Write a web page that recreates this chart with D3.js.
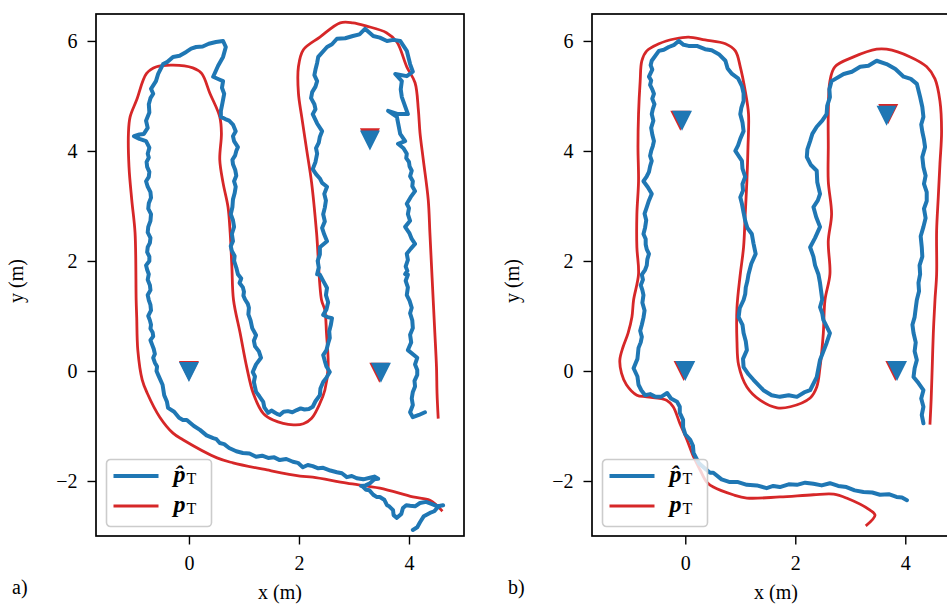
<!DOCTYPE html>
<html>
<head>
<meta charset="utf-8">
<script src="https://cdn.jsdelivr.net/npm/d3@7"></script>
<style>
  body { margin: 0; background: #fff; }
  text { font-family: "Liberation Serif", "DejaVu Serif", serif; fill: #000; }
</style>
</head>
<body>
<svg id="chart" width="947" height="605"></svg>
<script>
// tick values
const xTicks = [0, 2, 4];
const yTicks = [-2, 0, 2, 4, 6];

// panel a) true trajectory p_T (red)
const trueA = [
  [4.59,-2.53],[4.38,-2.35],[4.07,-2.29],[3.47,-2.13],[2.87,-2.04],[2.25,-1.93],[2.02,-1.91],
  [1.42,-1.80],[0.80,-1.67],[0.51,-1.58],[-0.11,-1.25],[-0.29,-1.13],[-0.53,-0.84],[-0.76,-0.40],
  [-0.85,-0.16],[-0.93,0.38],[-0.95,0.98],[-0.96,1.29],[-0.98,2.51],[-1.04,3.11],[-1.09,3.71],
  [-1.10,4.33],[-1.07,4.62],[-0.95,4.93],[-0.77,5.41],[-0.59,5.53],[-0.29,5.56],[0.07,5.51],
  [0.23,5.41],[0.38,5.05],[0.56,4.62],[0.59,4.32],[0.56,3.84],[0.62,3.42],[0.71,2.98],[0.75,2.50],
  [0.78,1.90],[0.81,1.29],[0.93,0.69],[1.05,0.07],[1.17,-0.41],[1.35,-0.77],[1.53,-0.89],
  [1.90,-0.98],[2.08,-0.96],[2.23,-0.86],[2.38,-0.59],[2.47,-0.35],[2.53,0.07],[2.50,0.69],
  [2.47,1.11],[2.41,1.29],[2.32,2.51],[2.23,3.42],[2.14,4.02],[2.05,4.62],[1.99,5.05],[1.99,5.53],
  [2.08,5.84],[2.38,6.07],[2.75,6.33],[2.98,6.33],[3.23,6.27],[3.59,6.15],[3.78,5.98],[3.96,5.53],
  [4.11,5.24],[4.17,4.75],[4.20,4.33],[4.26,3.84],[4.35,3.11],[4.38,2.51],[4.41,1.90],[4.44,1.29],
  [4.47,0.69],[4.50,0.07],[4.51,-0.41],[4.53,-0.84]
];

// panel a) estimated trajectory p̂_T (blue)
const estA = [
  [4.07,-2.89],[4.15,-2.84],[4.20,-2.75],[4.27,-2.64],[4.38,-2.58],[4.46,-2.55],[4.51,-2.49],[4.57,-2.45],
  [4.62,-2.44],[4.52,-2.46],[4.42,-2.42],[4.31,-2.38],[4.20,-2.40],[4.11,-2.46],[4.02,-2.45],[3.95,-2.44],
  [3.89,-2.49],[3.86,-2.60],[3.78,-2.67],[3.72,-2.62],[3.71,-2.53],[3.64,-2.46],[3.60,-2.44],[3.55,-2.34],
  [3.47,-2.29],[3.41,-2.29],[3.35,-2.25],[3.28,-2.17],[3.22,-2.16],[3.16,-2.10],[3.13,-2.09],[3.21,-2.08],
  [3.29,-2.04],[3.37,-1.97],[3.44,-1.96],[3.37,-1.92],[3.29,-1.94],[3.17,-1.97],[3.05,-1.95],[2.96,-1.91],
  [2.87,-1.93],[2.78,-1.86],[2.69,-1.84],[2.57,-1.81],[2.44,-1.76],[2.35,-1.77],[2.25,-1.73],[2.16,-1.71],
  [2.07,-1.75],[1.98,-1.67],[1.89,-1.65],[1.77,-1.60],[1.65,-1.62],[1.55,-1.57],[1.44,-1.58],[1.33,-1.54],
  [1.22,-1.56],[1.10,-1.50],[0.98,-1.49],[0.86,-1.46],[0.73,-1.40],[0.64,-1.33],[0.56,-1.31],[0.50,-1.24],
  [0.44,-1.22],[0.32,-1.17],[0.20,-1.07],[0.09,-1.00],[-0.04,-0.89],[-0.11,-0.89],[-0.18,-0.85],[-0.27,-0.74],
  [-0.38,-0.67],[-0.40,-0.56],[-0.45,-0.44],[-0.48,-0.25],[-0.56,-0.07],[-0.59,0.00],[-0.58,0.08],[-0.62,0.15],
  [-0.65,0.24],[-0.62,0.31],[-0.64,0.40],[-0.67,0.48],[-0.70,0.56],[-0.65,0.63],[-0.66,0.70],[-0.70,0.77],
  [-0.69,0.84],[-0.71,0.92],[-0.74,1.00],[-0.69,1.10],[-0.70,1.20],[-0.73,1.29],[-0.75,1.38],[-0.70,1.47],
  [-0.71,1.56],[-0.75,1.66],[-0.73,1.76],[-0.76,1.84],[-0.78,1.92],[-0.72,2.00],[-0.72,2.08],[-0.76,2.16],
  [-0.75,2.25],[-0.71,2.33],[-0.70,2.42],[-0.75,2.52],[-0.74,2.62],[-0.70,2.73],[-0.69,2.85],[-0.74,2.95],
  [-0.73,3.05],[-0.69,3.15],[-0.70,3.25],[-0.75,3.35],[-0.78,3.45],[-0.73,3.53],[-0.72,3.62],[-0.76,3.71],
  [-0.77,3.80],[-0.73,3.88],[-0.75,3.95],[-0.72,4.06],[-0.78,4.18],[-0.90,4.22],[-1.00,4.27],[-0.90,4.30],
  [-0.82,4.31],[-0.75,4.42],[-0.78,4.55],[-0.72,4.70],[-0.73,4.85],[-0.70,4.96],[-0.65,5.04],[-0.69,5.13],
  [-0.60,5.27],[-0.56,5.40],[-0.47,5.58],[-0.39,5.62],[-0.29,5.71],[-0.17,5.73],[-0.05,5.80],[0.04,5.86],
  [0.13,5.89],[0.25,5.90],[0.36,5.95],[0.49,5.98],[0.62,6.00],[0.67,5.89],[0.62,5.71],[0.53,5.55],
  [0.44,5.35],[0.55,5.30],[0.62,5.27],[0.60,5.15],[0.64,5.04],[0.61,4.88],[0.58,4.73],[0.58,4.62],
  [0.66,4.58],[0.73,4.55],[0.80,4.48],[0.85,4.36],[0.80,4.27],[0.82,4.18],[0.89,4.07],[0.86,4.00],
  [0.84,3.92],[0.79,3.84],[0.80,3.76],[0.84,3.66],[0.86,3.55],[0.82,3.45],[0.85,3.35],[0.83,3.23],
  [0.80,3.12],[0.79,2.98],[0.76,2.85],[0.80,2.74],[0.82,2.62],[0.78,2.49],[0.80,2.36],[0.76,2.27],
  [0.78,2.18],[0.83,2.09],[0.82,2.00],[0.86,1.88],[0.89,1.76],[0.95,1.68],[0.92,1.60],[0.98,1.52],
  [1.00,1.44],[0.99,1.37],[1.02,1.30],[1.07,1.22],[1.09,1.15],[1.08,1.03],[1.12,0.92],[1.15,0.78],
  [1.22,0.65],[1.18,0.55],[1.20,0.45],[1.27,0.36],[1.31,0.24],[1.22,0.12],[1.16,-0.02],[1.20,-0.10],
  [1.18,-0.20],[1.22,-0.38],[1.28,-0.46],[1.35,-0.56],[1.37,-0.66],[1.44,-0.76],[1.50,-0.72],[1.55,-0.75],
  [1.60,-0.78],[1.65,-0.80],[1.72,-0.74],[1.80,-0.73],[1.88,-0.75],[1.96,-0.71],[2.03,-0.68],[2.10,-0.70],
  [2.18,-0.69],[2.25,-0.65],[2.30,-0.55],[2.38,-0.44],[2.39,-0.32],[2.44,-0.20],[2.50,-0.12],[2.56,-0.02],
  [2.50,0.08],[2.47,0.18],[2.44,0.29],[2.50,0.38],[2.53,0.50],[2.56,0.60],[2.55,0.72],[2.58,0.84],
  [2.60,0.96],[2.52,0.98],[2.44,1.02],[2.50,1.12],[2.53,1.25],[2.49,1.38],[2.51,1.51],[2.45,1.62],
  [2.38,1.75],[2.33,1.76],[2.36,1.88],[2.34,2.00],[2.38,2.12],[2.38,2.25],[2.51,2.36],[2.46,2.48],
  [2.42,2.60],[2.47,2.72],[2.44,2.85],[2.47,2.97],[2.49,3.10],[2.46,3.22],[2.51,3.35],[2.42,3.42],
  [2.38,3.50],[2.31,3.58],[2.25,3.67],[2.30,3.80],[2.33,3.95],[2.31,4.05],[2.36,4.15],[2.38,4.26],
  [2.42,4.36],[2.33,4.50],[2.25,4.67],[2.30,4.76],[2.28,4.85],[2.22,4.96],[2.24,5.07],[2.30,5.17],
  [2.33,5.27],[2.28,5.38],[2.30,5.48],[2.33,5.60],[2.35,5.71],[2.51,5.89],[2.60,5.94],[2.69,6.04],
  [2.84,6.05],[2.98,6.09],[3.10,6.12],[3.20,6.22],[3.35,6.09],[3.47,6.06],[3.60,6.00],[3.72,6.02],
  [3.84,6.00],[3.96,5.82],[4.02,5.58],[4.07,5.44],[3.96,5.36],[3.75,5.40],[3.87,5.27],[3.85,5.12],
  [3.87,4.98],[3.98,4.67],[3.80,4.67],[3.62,4.73],[3.78,4.62],[3.84,4.31],[3.93,4.18],[3.80,4.13],
  [3.90,4.05],[3.96,3.95],[3.95,3.87],[4.00,3.80],[4.01,3.72],[4.05,3.64],[4.02,3.54],[4.07,3.45],
  [4.06,3.36],[4.11,3.27],[4.03,3.16],[3.96,3.04],[4.00,2.96],[3.98,2.85],[4.02,2.73],[3.93,2.62],
  [4.01,2.50],[4.05,2.40],[4.11,2.31],[4.03,2.22],[3.96,2.13],[3.98,2.02],[3.94,1.90],[3.97,1.82],
  [3.93,1.76],[3.98,1.75],[3.94,1.64],[3.98,1.52],[3.96,1.38],[4.01,1.28],[4.05,1.15],[4.02,1.05],
  [4.06,0.92],[4.07,0.78],[4.02,0.66],[4.04,0.52],[3.98,0.38],[4.15,0.24],[4.11,0.12],[4.15,0.02],
  [4.15,-0.07],[4.10,-0.18],[4.11,-0.28],[4.07,-0.38],[4.05,-0.50],[4.07,-0.62],[4.02,-0.75],[4.07,-0.84],
  [4.18,-0.80],[4.29,-0.75]
];

// panel b) true trajectory p_T (red)
const trueB = [
  [3.30,-2.80],[3.45,-2.62],[3.36,-2.53],[2.93,-2.31],[2.70,-2.24],[2.33,-2.25],[1.72,-2.29],
  [1.12,-2.31],[0.87,-2.25],[0.51,-2.11],[0.39,-2.02],[0.27,-1.80],[0.15,-1.56],[0.03,-1.25],
  [-0.10,-0.95],[-0.22,-0.65],[-0.34,-0.53],[-0.70,-0.47],[-0.88,-0.44],[-1.07,-0.25],[-1.16,-0.04],
  [-1.19,0.20],[-1.13,0.44],[-1.04,0.69],[-0.97,0.98],[-0.94,1.29],[-0.85,1.76],[-0.88,2.25],
  [-0.88,2.85],[-0.85,3.45],[-0.86,4.07],[-0.85,4.67],[-0.82,5.27],[-0.79,5.64],[-0.70,5.82],
  [-0.48,5.95],[-0.18,6.04],[0.06,6.07],[0.36,6.02],[0.73,5.95],[0.91,5.82],[1.00,5.53],[1.09,5.09],
  [1.15,4.67],[1.14,4.07],[1.12,3.45],[1.09,2.85],[1.06,2.25],[1.00,1.76],[0.94,1.15],[0.94,0.53],
  [0.97,0.11],[1.12,-0.29],[1.36,-0.53],[1.67,-0.67],[1.91,-0.65],[2.27,-0.49],[2.39,-0.29],
  [2.45,0.07],[2.51,0.69],[2.54,1.29],[2.63,1.76],[2.60,2.36],[2.66,2.85],[2.60,3.45],[2.60,4.07],
  [2.60,4.67],[2.63,5.27],[2.72,5.53],[3.06,5.71],[3.48,5.85],[3.66,5.85],[4.09,5.71],[4.39,5.53],
  [4.54,5.31],[4.63,4.91],[4.66,4.36],[4.63,3.76],[4.60,3.16],[4.57,2.55],[4.57,1.76],[4.54,1.29],
  [4.51,0.69],[4.49,0.07],[4.47,-0.53],[4.45,-0.95]
];

// panel b) estimated trajectory p̂_T (blue)
const estB = [
  [4.03,-2.35],[3.94,-2.30],[3.84,-2.29],[3.70,-2.24],[3.54,-2.25],[3.40,-2.21],[3.24,-2.20],[3.08,-2.17],
  [2.93,-2.11],[2.78,-2.09],[2.63,-2.04],[2.48,-2.08],[2.33,-2.05],[2.18,-2.03],[2.03,-2.07],[1.88,-2.06],
  [1.72,-2.11],[1.60,-2.09],[1.48,-2.13],[1.30,-2.08],[1.12,-2.07],[0.96,-2.02],[0.81,-2.02],[0.66,-1.97],
  [0.51,-1.85],[0.45,-1.85],[0.39,-1.80],[0.25,-1.68],[0.15,-1.49],[0.14,-1.36],[0.09,-1.25],[0.00,-1.15],
  [-0.04,-1.02],[-0.04,-0.89],[-0.10,-0.76],[-0.10,-0.65],[-0.15,-0.56],[-0.26,-0.50],[-0.33,-0.40],[-0.44,-0.47],
  [-0.54,-0.47],[-0.64,-0.42],[-0.73,-0.44],[-0.80,-0.35],[-0.85,-0.25],[-0.87,-0.10],[-0.94,0.05],[-0.87,0.22],
  [-0.85,0.42],[-0.81,0.52],[-0.79,0.62],[-0.82,0.73],[-0.79,0.84],[-0.76,0.97],[-0.74,1.10],[-0.78,1.24],
  [-0.76,1.38],[-0.78,1.47],[-0.81,1.56],[-0.77,1.66],[-0.79,1.75],[-0.73,1.84],[-0.70,1.92],[-0.69,2.03],
  [-0.66,2.13],[-0.70,2.21],[-0.72,2.30],[-0.72,2.40],[-0.76,2.49],[-0.73,2.61],[-0.71,2.74],[-0.74,2.86],
  [-0.70,2.98],[-0.66,3.10],[-0.61,3.22],[-0.68,3.34],[-0.76,3.45],[-0.70,3.54],[-0.66,3.62],[-0.64,3.72],
  [-0.61,3.82],[-0.64,3.91],[-0.62,4.00],[-0.59,4.09],[-0.57,4.18],[-0.60,4.30],[-0.62,4.42],[-0.58,4.55],
  [-0.61,4.67],[-0.59,4.76],[-0.56,4.85],[-0.60,4.95],[-0.57,5.04],[-0.60,5.12],[-0.64,5.20],[-0.62,5.28],
  [-0.66,5.35],[-0.60,5.48],[-0.63,5.56],[-0.61,5.64],[-0.48,5.82],[-0.39,5.84],[-0.30,5.89],[-0.20,5.93],
  [-0.12,6.00],[-0.03,5.93],[0.06,5.91],[0.21,5.91],[0.36,5.85],[0.48,5.83],[0.61,5.76],[0.73,5.64],
  [0.77,5.50],[0.85,5.40],[0.96,5.32],[1.03,5.18],[1.06,5.05],[1.06,4.91],[1.02,4.79],[1.00,4.67],
  [1.04,4.52],[1.06,4.36],[1.00,4.22],[0.96,4.10],[0.91,4.00],[1.03,3.82],[1.04,3.68],[1.09,3.53],
  [1.04,3.40],[1.05,3.28],[1.00,3.16],[1.03,3.04],[1.06,2.88],[1.09,2.73],[1.13,2.60],[1.21,2.49],
  [1.24,2.32],[1.28,2.13],[1.20,1.95],[1.15,1.76],[1.13,1.64],[1.10,1.52],[1.09,1.40],[1.06,1.29],
  [0.99,1.14],[0.97,0.98],[1.04,0.84],[1.06,0.69],[1.10,0.54],[1.12,0.38],[1.05,0.22],[1.06,0.07],
  [1.15,-0.06],[1.24,-0.16],[1.42,-0.35],[1.57,-0.44],[1.72,-0.47],[1.88,-0.44],[2.03,-0.47],[2.16,-0.39],
  [2.27,-0.35],[2.39,-0.11],[2.45,0.20],[2.57,0.51],[2.63,0.69],[2.57,0.81],[2.51,0.93],[2.49,1.05],
  [2.45,1.16],[2.49,1.30],[2.47,1.45],[2.45,1.60],[2.42,1.76],[2.36,1.92],[2.33,2.08],[2.27,2.25],
  [2.36,2.42],[2.45,2.62],[2.38,2.80],[2.33,2.98],[2.41,3.10],[2.45,3.22],[2.40,3.43],[2.39,3.64],
  [2.28,3.75],[2.21,3.89],[2.22,4.03],[2.27,4.18],[2.31,4.31],[2.39,4.44],[2.49,4.55],[2.57,4.67],
  [2.58,4.82],[2.63,4.98],[2.62,5.12],[2.66,5.27],[2.88,5.40],[3.03,5.44],[3.18,5.53],[3.33,5.55],
  [3.48,5.64],[3.66,5.58],[3.82,5.49],[3.97,5.35],[4.10,5.31],[4.21,5.22],[4.27,4.98],[4.31,4.80],
  [4.33,4.62],[4.29,4.48],[4.31,4.35],[4.34,4.21],[4.36,4.07],[4.31,3.89],[4.33,3.71],[4.37,3.55],
  [4.34,3.40],[4.39,3.25],[4.39,3.09],[4.34,2.95],[4.37,2.78],[4.33,2.62],[4.28,2.45],[4.30,2.25],
  [4.31,2.08],[4.26,1.92],[4.27,1.76],[4.24,1.60],[4.25,1.45],[4.21,1.29],[4.19,1.14],[4.17,0.98],
  [4.13,0.84],[4.15,0.69],[4.19,0.52],[4.17,0.36],[4.21,0.20],[4.17,0.05],[4.15,-0.11],[4.24,-0.22],
  [4.33,-0.35],[4.29,-0.50],[4.33,-0.65],[4.30,-0.80],[4.33,-0.95]
];

// anchors: true positions (red) and estimated positions (blue)
const anchorsTrueA = [[0.0, 0.0], [3.29, 4.23], [3.46, -0.03]];
const anchorsEstA = [[0.0, -0.02], [3.29, 4.19], [3.49, -0.03]];
const anchorsTrueB = [[-0.03, 0.0], [3.82, 0.0], [-0.09, 4.55], [3.69, 4.67]];
const anchorsEstB = [[0.0, 0.0], [3.85, 0.0], [-0.06, 4.55], [3.66, 4.64]];

const panels = [
  { tag: "a)", left: 96, xDomain: [-1.69, 5.0], est: estA, tru: trueA, aEst: anchorsEstA, aTrue: anchorsTrueA },
  { tag: "b)", left: 592, xDomain: [-1.696, 4.995], est: estB, tru: trueB, aEst: anchorsEstB, aTrue: anchorsTrueB }
];

const blue = "#1f77b4", red = "#d62728";
const marginTop = 14, width = 368, height = 522;
const yDomain = [-3.0, 6.49];

const svg = d3.select("#chart");

panels.forEach((p, i) => {
  const g = svg.append("g").attr("transform", `translate(${p.left},${marginTop})`);
  const x = d3.scaleLinear().domain(p.xDomain).range([0, width]);
  const y = d3.scaleLinear().domain(yDomain).range([height, 0]);

  g.append("clipPath").attr("id", "clip" + i)
    .append("rect").attr("width", width).attr("height", height);

  const plot = g.append("g").attr("clip-path", `url(#clip${i})`);
  const smooth = d3.line().x(d => x(d[0])).y(d => y(d[1])).curve(d3.curveCatmullRom.alpha(0.5));
  const rough = d3.line().x(d => x(d[0])).y(d => y(d[1]));

  plot.append("path").datum(p.tru)
    .attr("d", smooth).attr("fill", "none")
    .attr("stroke", red).attr("stroke-width", 2.8)
    .attr("stroke-linejoin", "round").attr("stroke-linecap", "square");

  plot.append("path").datum(p.est)
    .attr("d", rough).attr("fill", "none")
    .attr("stroke", blue).attr("stroke-width", 4)
    .attr("stroke-linejoin", "round").attr("stroke-linecap", "round");

  // downward triangle marker, 20px across
  const tri = "M0,10L-10,-10L10,-10Z";
  plot.selectAll(".aTrue").data(p.aTrue).enter().append("path")
    .attr("d", tri).attr("fill", red)
    .attr("transform", d => `translate(${x(d[0])},${y(d[1])})`);
  plot.selectAll(".aEst").data(p.aEst).enter().append("path")
    .attr("d", tri).attr("fill", blue)
    .attr("transform", d => `translate(${x(d[0])},${y(d[1])})`);

  // axes
  const xAxis = g.append("g").attr("transform", `translate(0,${height})`)
    .call(d3.axisBottom(x).tickValues(xTicks).tickSize(8.5).tickPadding(11)
      .tickFormat(d => d < 0 ? "\u2212" + Math.abs(d) : d));
  const yAxis = g.append("g")
    .call(d3.axisLeft(y).tickValues(yTicks).tickSize(8.5).tickPadding(10)
      .tickFormat(d => d < 0 ? "\u2212" + Math.abs(d) : d));
  [xAxis, yAxis].forEach(a => {
    a.select(".domain").remove();
    a.selectAll(".tick line").attr("stroke", "#000").attr("stroke-width", 1.4);
    a.selectAll(".tick text").attr("font-size", 20)
      .attr("font-family", "Liberation Serif, serif").attr("fill", "#000");
  });

  g.append("rect").attr("width", width).attr("height", height)
    .attr("fill", "none").attr("stroke", "#000").attr("stroke-width", 1.7);

  // legend
  const lg = g.append("g").attr("transform", "translate(10.5,445.5)");
  lg.append("rect").attr("width", 105).attr("height", 67).attr("rx", 4)
    .attr("fill", "#fff").attr("fill-opacity", 0.8)
    .attr("stroke", "#cccccc").attr("stroke-width", 1.6);
  const items = [
    { color: blue, w: 4, hat: true },
    { color: red, w: 2.8, hat: false }
  ];
  items.forEach((it, k) => {
    const cy = 16.5 + k * 30;
    lg.append("line").attr("x1", 7).attr("x2", 52).attr("y1", cy).attr("y2", cy)
      .attr("stroke", it.color).attr("stroke-width", it.w);
    const t = lg.append("text").attr("x", 67).attr("y", cy + 6).attr("font-size", 24);
    t.append("tspan").attr("font-weight", "bold").attr("font-style", "italic")
      .text(it.hat ? "p\u0302" : "p");
    t.append("tspan").attr("font-size", 16).attr("dx", 1).attr("dy", 2).text("T");
  });

  // axis labels
  g.append("text").attr("x", width / 2).attr("y", height + 63)
    .attr("text-anchor", "middle").attr("font-size", 20).text("x (m)");
  g.append("text").attr("transform", `translate(${-73},${height / 2 + 6}) rotate(-90)`)
    .attr("text-anchor", "middle").attr("font-size", 20).text("y (m)");
  g.append("text").attr("x", -84).attr("y", height + 58)
    .attr("font-size", 20).text(p.tag);
});
</script>
</body>
</html>
